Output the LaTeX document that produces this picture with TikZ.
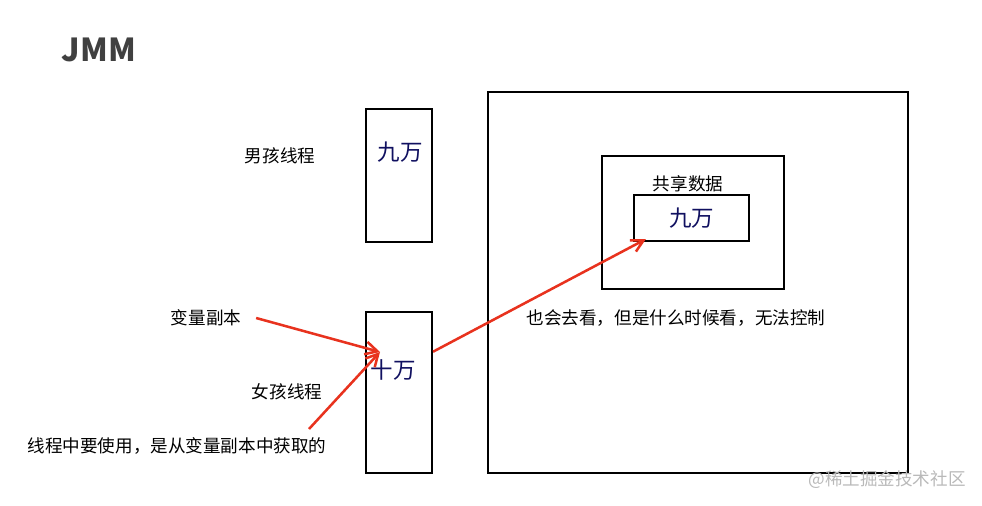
\documentclass[tikz,border=0pt]{standalone}
\usepackage{fontspec}
\setmainfont{Noto Sans CJK SC}
\usetikzlibrary{positioning,calc,arrows.meta}
\definecolor{redarrow}{RGB}{232,50,30}
\definecolor{navytext}{RGB}{16,16,96}
\definecolor{titlegray}{RGB}{64,64,64}
\tikzset{
  membox/.style={draw, line width=1.5pt, inner sep=0pt},
  labeltext/.style={font=\fontsize{12.5}{14}\selectfont},
  valuetext/.style={font=\fontsize{16}{18}\selectfont, text=navytext},
  readarrow/.style={draw=redarrow, line width=1.8pt, -{Straight Barb[length=3mm,width=3.2mm]}},
}
\begin{document}
\begin{tikzpicture}[x=0.025cm,y=-0.025cm]
    \useasboundingbox (0,0) rectangle (982,506);
    \node[font=\bfseries\fontsize{22.5}{24}\selectfont, text=titlegray] (title) at (99,50) {JMM};
    % main memory
    \node[membox, minimum width=10.5cm, minimum height=9.525cm] (main) at (698,282.5) {};
    \node[membox, minimum width=4.55cm, minimum height=3.325cm] (shared) at (693,222.5) {};
    \node[labeltext] (sharedlbl) at (688,184) {共享数据};
    \node[membox, valuetext, minimum width=2.875cm, minimum height=1.15cm] (inner) at (691.5,218) {九万};
    \node[labeltext] (note) at (676,318) {也会去看，但是什么时候看，无法控制};
    % threads
    \node[membox, minimum width=1.65cm, minimum height=3.325cm] (boy) at (399,175.5) {};
    \node[valuetext] (boyval) at (400,152) {九万};
    \node[labeltext] (boylbl) at (280,156) {男孩线程};
    \node[membox, minimum width=1.65cm, minimum height=4.025cm] (girl) at (399,392.5) {};
    \node[valuetext] (girlval) at (393,370) {十万};
    \node[labeltext] (girllbl) at (287,392) {女孩线程};
    \node[labeltext] (copy) at (206,318) {变量副本};
    \node[labeltext] (fromcopy) at (177,446) {线程中要使用，是从变量副本中获取的};
    \node[labeltext, text=gray!55] (mark) at (887,480) {@稀土掘金技术社区};
    % arrows
    \coordinate (tip) at (380,352);
    \coordinate (usestart) at (309,429);
    \draw[readarrow] ([xshift=0.25cm]copy.east) -- (tip);
    \draw[readarrow] (usestart) -- (tip);
    \draw[readarrow] ($(girl.north east)!0.25!(girl.south east)$) -- ([xshift=0.325cm,yshift=0.075cm]inner.south west);
\end{tikzpicture}
\end{document}
